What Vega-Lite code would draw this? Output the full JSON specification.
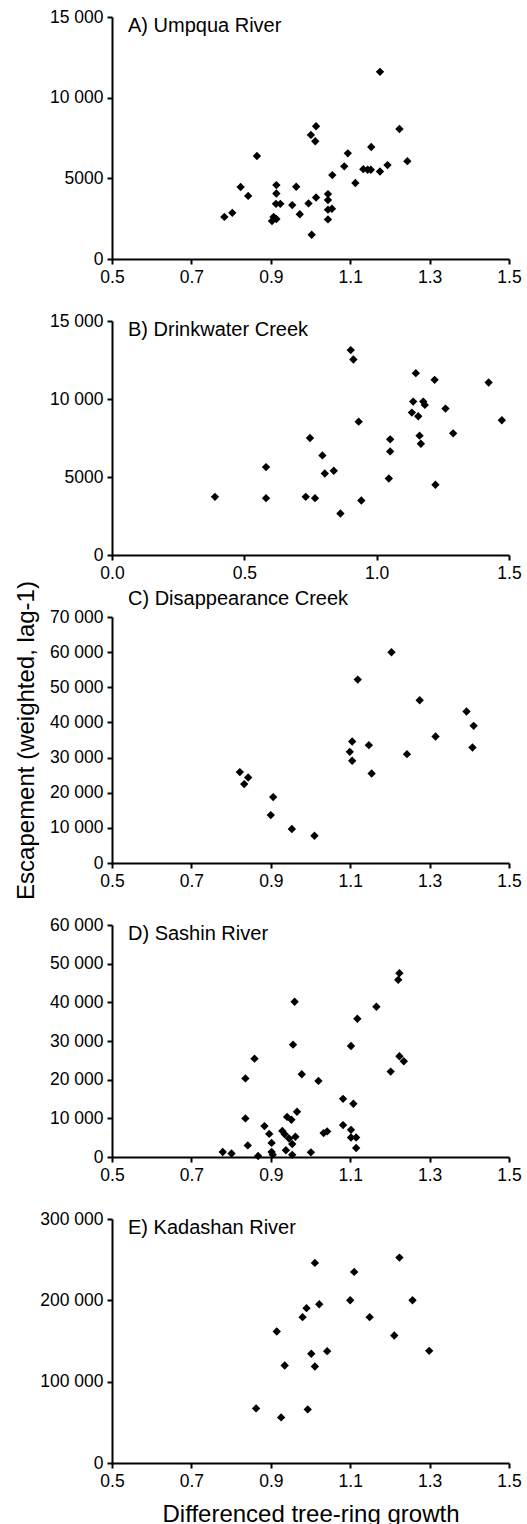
{
  "$schema": "https://vega.github.io/schema/vega-lite/v6.json",
  "background": "white",
  "padding": {"left": 13, "right": 6, "top": 8, "bottom": 0},
  "bounds": "flush",
  "spacing": 62,
  "config": {
    "font": "Liberation Sans",
    "view": {"stroke": null},
    "axis": {
      "grid": false,
      "labelFlush": false,
      "labelOverlap": false,
      "domainColor": "black",
      "domainWidth": 2,
      "tickColor": "black",
      "tickWidth": 2,
      "tickSize": 5,
      "labelColor": "black",
      "labelFontSize": 17.5,
      "labelPadding": 4,
      "titleFontSize": 24,
      "titleFontWeight": "normal",
      "titleColor": "black"
    },
    "title": {
      "anchor": "start",
      "frame": "group",
      "fontSize": 20,
      "fontWeight": "normal",
      "color": "black",
      "baseline": "alphabetic",
      "dx": 16,
      "offset": -28
    },
    "point": {"shape": "diamond", "filled": true, "color": "black", "size": 70, "opacity": 1}
  },
  "datasets": {
    "A": [
      {"growth": 0.783, "escapement": 2610}, {"growth": 0.803, "escapement": 2860}, {"growth": 0.824, "escapement": 4460},
      {"growth": 0.843, "escapement": 3910}, {"growth": 0.865, "escapement": 6385}, {"growth": 0.903, "escapement": 2350},
      {"growth": 0.907, "escapement": 2600}, {"growth": 0.914, "escapement": 2480}, {"growth": 0.914, "escapement": 4580},
      {"growth": 0.914, "escapement": 4060}, {"growth": 0.913, "escapement": 3420}, {"growth": 0.924, "escapement": 3420},
      {"growth": 0.954, "escapement": 3340}, {"growth": 0.964, "escapement": 4476}, {"growth": 0.973, "escapement": 2775},
      {"growth": 0.995, "escapement": 3445}, {"growth": 1.003, "escapement": 1505}, {"growth": 1.001, "escapement": 7690},
      {"growth": 1.012, "escapement": 7300}, {"growth": 1.014, "escapement": 8230}, {"growth": 1.014, "escapement": 3815},
      {"growth": 1.044, "escapement": 4025}, {"growth": 1.044, "escapement": 3652}, {"growth": 1.044, "escapement": 3060},
      {"growth": 1.054, "escapement": 3115}, {"growth": 1.044, "escapement": 2452}, {"growth": 1.055, "escapement": 5200},
      {"growth": 1.085, "escapement": 5745}, {"growth": 1.094, "escapement": 6550}, {"growth": 1.113, "escapement": 4710},
      {"growth": 1.133, "escapement": 5570}, {"growth": 1.144, "escapement": 5530}, {"growth": 1.152, "escapement": 5530},
      {"growth": 1.153, "escapement": 6940}, {"growth": 1.175, "escapement": 11600}, {"growth": 1.175, "escapement": 5425},
      {"growth": 1.194, "escapement": 5820}, {"growth": 1.224, "escapement": 8055}, {"growth": 1.244, "escapement": 6065}
    ],
    "B": [
      {"growth": 0.389, "escapement": 3728}, {"growth": 0.582, "escapement": 5635}, {"growth": 0.582, "escapement": 3643},
      {"growth": 0.732, "escapement": 3728}, {"growth": 0.748, "escapement": 7500}, {"growth": 0.767, "escapement": 3643},
      {"growth": 0.795, "escapement": 6385}, {"growth": 0.804, "escapement": 5228}, {"growth": 0.838, "escapement": 5400},
      {"growth": 0.863, "escapement": 2657}, {"growth": 0.902, "escapement": 13135}, {"growth": 0.912, "escapement": 12535},
      {"growth": 0.932, "escapement": 8549}, {"growth": 0.942, "escapement": 3493}, {"growth": 1.046, "escapement": 4907},
      {"growth": 1.051, "escapement": 7414}, {"growth": 1.051, "escapement": 6642}, {"growth": 1.133, "escapement": 9128},
      {"growth": 1.138, "escapement": 9835}, {"growth": 1.148, "escapement": 11656}, {"growth": 1.157, "escapement": 8892},
      {"growth": 1.162, "escapement": 7650}, {"growth": 1.167, "escapement": 7135}, {"growth": 1.176, "escapement": 9835},
      {"growth": 1.182, "escapement": 9621}, {"growth": 1.219, "escapement": 11228}, {"growth": 1.222, "escapement": 4500},
      {"growth": 1.260, "escapement": 9385}, {"growth": 1.289, "escapement": 7800}, {"growth": 1.423, "escapement": 11056},
      {"growth": 1.473, "escapement": 8635}
    ],
    "C": [
      {"growth": 0.822, "escapement": 25860}, {"growth": 0.833, "escapement": 22450}, {"growth": 0.843, "escapement": 24345},
      {"growth": 0.906, "escapement": 18755}, {"growth": 0.900, "escapement": 13640}, {"growth": 0.953, "escapement": 9662},
      {"growth": 1.010, "escapement": 7767}, {"growth": 1.099, "escapement": 31638}, {"growth": 1.105, "escapement": 34574},
      {"growth": 1.105, "escapement": 29080}, {"growth": 1.119, "escapement": 52193}, {"growth": 1.147, "escapement": 33532},
      {"growth": 1.154, "escapement": 25481}, {"growth": 1.204, "escapement": 59960}, {"growth": 1.243, "escapement": 30975},
      {"growth": 1.275, "escapement": 46320}, {"growth": 1.315, "escapement": 35995}, {"growth": 1.393, "escapement": 43100},
      {"growth": 1.411, "escapement": 39027}, {"growth": 1.408, "escapement": 32870}
    ],
    "D": [
      {"growth": 0.779, "escapement": 1290}, {"growth": 0.801, "escapement": 900}, {"growth": 0.836, "escapement": 20330},
      {"growth": 0.836, "escapement": 9975}, {"growth": 0.842, "escapement": 3005}, {"growth": 0.859, "escapement": 25430},
      {"growth": 0.868, "escapement": 250}, {"growth": 0.884, "escapement": 7995}, {"growth": 0.896, "escapement": 5975},
      {"growth": 0.902, "escapement": 3650}, {"growth": 0.902, "escapement": 1290}, {"growth": 0.905, "escapement": 600},
      {"growth": 0.929, "escapement": 6750}, {"growth": 0.935, "escapement": 5890}, {"growth": 0.938, "escapement": 1760},
      {"growth": 0.941, "escapement": 10360}, {"growth": 0.946, "escapement": 4770}, {"growth": 0.952, "escapement": 9630},
      {"growth": 0.954, "escapement": 3350}, {"growth": 0.954, "escapement": 560}, {"growth": 0.956, "escapement": 29060},
      {"growth": 0.960, "escapement": 40145}, {"growth": 0.962, "escapement": 5240}, {"growth": 0.966, "escapement": 11690},
      {"growth": 0.978, "escapement": 21400}, {"growth": 1.001, "escapement": 1210}, {"growth": 1.020, "escapement": 19685},
      {"growth": 1.033, "escapement": 6190}, {"growth": 1.042, "escapement": 6620}, {"growth": 1.082, "escapement": 15040},
      {"growth": 1.082, "escapement": 8250}, {"growth": 1.102, "escapement": 28700}, {"growth": 1.102, "escapement": 7020},
      {"growth": 1.102, "escapement": 5030}, {"growth": 1.108, "escapement": 13760}, {"growth": 1.115, "escapement": 5030},
      {"growth": 1.115, "escapement": 2320}, {"growth": 1.118, "escapement": 35760}, {"growth": 1.166, "escapement": 38855},
      {"growth": 1.202, "escapement": 22092}, {"growth": 1.221, "escapement": 45818}, {"growth": 1.224, "escapement": 47537},
      {"growth": 1.224, "escapement": 26046}, {"growth": 1.235, "escapement": 24757}
    ],
    "E": [
      {"growth": 0.863, "escapement": 67130}, {"growth": 0.926, "escapement": 56080}, {"growth": 0.915, "escapement": 161690},
      {"growth": 0.935, "escapement": 119935}, {"growth": 0.980, "escapement": 179290}, {"growth": 0.990, "escapement": 190340},
      {"growth": 0.993, "escapement": 65900}, {"growth": 1.002, "escapement": 134260}, {"growth": 1.011, "escapement": 246010},
      {"growth": 1.011, "escapement": 118700}, {"growth": 1.022, "escapement": 195250}, {"growth": 1.042, "escapement": 137530},
      {"growth": 1.100, "escapement": 200160}, {"growth": 1.110, "escapement": 234960}, {"growth": 1.149, "escapement": 179290},
      {"growth": 1.211, "escapement": 156780}, {"growth": 1.224, "escapement": 252560}, {"growth": 1.257, "escapement": 200160},
      {"growth": 1.299, "escapement": 137940}
    ]
  },
  "vconcat": [
    {
      "width": 397, "height": 242,
      "data": {"name": "A"},
      "title": {"text": "A) Umpqua River"},
      "mark": {"type": "point"},
      "encoding": {
        "x": {"field": "growth", "type": "quantitative", "scale": {"domain": [0.5, 1.5], "nice": false, "zero": false},
              "axis": {"values": [0.5, 0.7, 0.9, 1.1, 1.3, 1.5], "format": ".1f", "title": null}},
        "y": {"field": "escapement", "type": "quantitative", "scale": {"domain": [0, 15000], "nice": false},
              "axis": {"values": [0, 5000, 10000, 15000], "title": null,
                       "labelExpr": "datum.value >= 10000 ? replace(format(datum.value, ','), regexp(',', 'g'), ' ') : format(datum.value, 'd')"}}
      }
    },
    {
      "width": 397, "height": 234,
      "data": {"name": "B"},
      "title": {"text": "B) Drinkwater Creek"},
      "mark": {"type": "point"},
      "encoding": {
        "x": {"field": "growth", "type": "quantitative", "scale": {"domain": [0, 1.5], "nice": false, "zero": false},
              "axis": {"values": [0, 0.5, 1.0, 1.5], "format": ".1f", "title": null}},
        "y": {"field": "escapement", "type": "quantitative", "scale": {"domain": [0, 15000], "nice": false},
              "axis": {"values": [0, 5000, 10000, 15000], "title": null,
                       "labelExpr": "datum.value >= 10000 ? replace(format(datum.value, ','), regexp(',', 'g'), ' ') : format(datum.value, 'd')"}}
      }
    },
    {
      "width": 397, "height": 246,
      "data": {"name": "C"},
      "title": {"text": "C) Disappearance Creek"},
      "mark": {"type": "point"},
      "encoding": {
        "x": {"field": "growth", "type": "quantitative", "scale": {"domain": [0.5, 1.5], "nice": false, "zero": false},
              "axis": {"values": [0.5, 0.7, 0.9, 1.1, 1.3, 1.5], "format": ".1f", "title": null}},
        "y": {"field": "escapement", "type": "quantitative", "scale": {"domain": [0, 70000], "nice": false},
              "axis": {"values": [0, 10000, 20000, 30000, 40000, 50000, 60000, 70000],
                       "title": "Escapement (weighted, lag-1)", "titleX": -79, "titleBaseline": "alphabetic",
                       "labelExpr": "datum.value >= 10000 ? replace(format(datum.value, ','), regexp(',', 'g'), ' ') : format(datum.value, 'd')"}}
      }
    },
    {
      "width": 397, "height": 232,
      "data": {"name": "D"},
      "title": {"text": "D) Sashin River"},
      "mark": {"type": "point"},
      "encoding": {
        "x": {"field": "growth", "type": "quantitative", "scale": {"domain": [0.5, 1.5], "nice": false, "zero": false},
              "axis": {"values": [0.5, 0.7, 0.9, 1.1, 1.3, 1.5], "format": ".1f", "title": null}},
        "y": {"field": "escapement", "type": "quantitative", "scale": {"domain": [0, 60000], "nice": false},
              "axis": {"values": [0, 10000, 20000, 30000, 40000, 50000, 60000], "title": null,
                       "labelExpr": "datum.value >= 10000 ? replace(format(datum.value, ','), regexp(',', 'g'), ' ') : format(datum.value, 'd')"}}
      }
    },
    {
      "width": 397, "height": 244,
      "data": {"name": "E"},
      "title": {"text": "E) Kadashan River"},
      "mark": {"type": "point"},
      "encoding": {
        "x": {"field": "growth", "type": "quantitative", "scale": {"domain": [0.5, 1.5], "nice": false, "zero": false},
              "axis": {"values": [0.5, 0.7, 0.9, 1.1, 1.3, 1.5], "format": ".1f",
                       "title": "Differenced tree-ring growth", "titleY": 58, "titleBaseline": "alphabetic"}},
        "y": {"field": "escapement", "type": "quantitative", "scale": {"domain": [0, 300000], "nice": false},
              "axis": {"values": [0, 100000, 200000, 300000], "title": null,
                       "labelExpr": "datum.value >= 10000 ? replace(format(datum.value, ','), regexp(',', 'g'), ' ') : format(datum.value, 'd')"}}
      }
    }
  ]
}
